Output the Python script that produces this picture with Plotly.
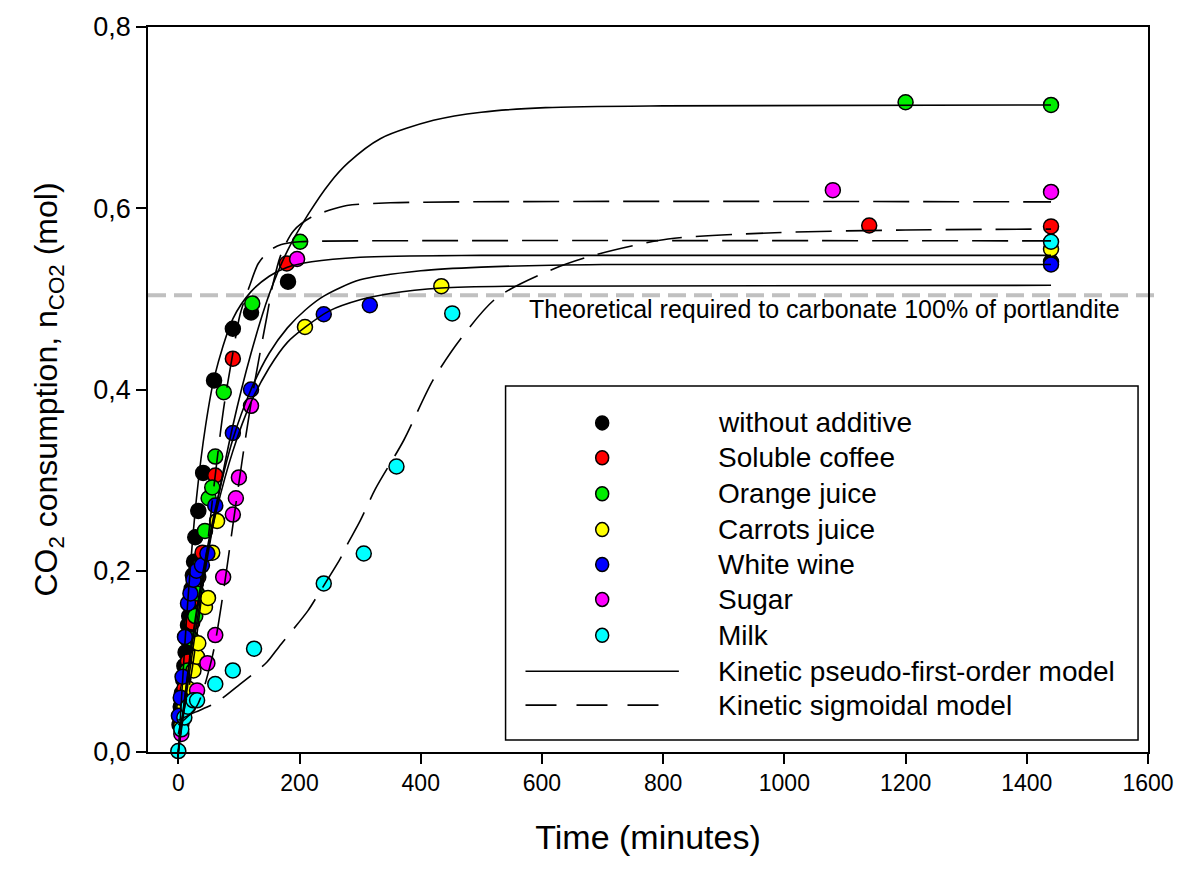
import plotly.graph_objects as go

# ---------------- data ----------------
series_names = ["without additive", "Soluble coffee", "Orange juice", "Carrots juice",
                "White wine", "Sugar", "Milk"]
series_colors = ["#000000", "#ff0000", "#00ee00", "#ffff00", "#0000ff", "#ff00ff", "#00ffff"]

black_t = [2, 4, 6, 8, 10, 12, 14, 16, 18, 20, 22, 24, 26, 28, 33, 41, 59, 90, 120, 181, 1440]
black_v = [0.03, 0.05, 0.065, 0.08, 0.095, 0.11, 0.125, 0.14, 0.15, 0.165, 0.18, 0.195, 0.21,
           0.237, 0.266, 0.308, 0.41, 0.467, 0.485, 0.519, 0.541]
red_t = [4, 10, 16, 23, 28, 33, 40, 61, 90, 179, 1140, 1440]
red_v = [0.035, 0.07, 0.10, 0.143, 0.17, 0.193, 0.22, 0.305, 0.434, 0.539, 0.581, 0.58]
green_t = [8, 15, 22, 28, 31, 35, 44, 50, 56, 61, 75, 122, 201, 1200, 1440]
green_v = [0.05, 0.09, 0.125, 0.15, 0.175, 0.205, 0.244, 0.28, 0.292, 0.326, 0.397, 0.495,
           0.563, 0.717, 0.714]
yellow_t = [5, 10, 16, 25, 31, 33, 44, 49, 56, 64, 209, 434, 1440]
yellow_v = [0.03, 0.05, 0.07, 0.09, 0.105, 0.12, 0.16, 0.17, 0.22, 0.255, 0.469, 0.514, 0.555]
blue_t = [1, 4, 7, 11, 16, 20, 25, 30, 39, 48, 61, 90, 120, 240, 316, 1440]
blue_v = [0.04, 0.06, 0.083, 0.127, 0.164, 0.175, 0.19, 0.2, 0.206, 0.219, 0.272, 0.352, 0.40,
          0.483, 0.493, 0.538]
magenta_t = [5, 31, 48, 61, 74, 90, 95, 100, 120, 196, 1080, 1440]
magenta_v = [0.02, 0.068, 0.098, 0.129, 0.193, 0.262, 0.28, 0.303, 0.382, 0.544, 0.62, 0.618]
cyan_t = [0, 5, 10, 16, 25, 31, 61, 90, 125, 240, 306, 360, 452, 1440]
cyan_v = [0.001, 0.025, 0.038, 0.05, 0.057, 0.057, 0.075, 0.09, 0.114, 0.186, 0.219, 0.315,
          0.484, 0.563]

series_t = [black_t, red_t, green_t, yellow_t, blue_t, magenta_t, cyan_t]
series_v = [black_v, red_v, green_v, yellow_v, blue_v, magenta_v, cyan_v]

# model curves
orange_fit_t = [0, 30, 60, 90, 120, 150, 180, 215, 250, 280, 334, 421, 500, 606, 800, 1440]
orange_fit_v = [0, 0.14, 0.26, 0.36, 0.44, 0.505, 0.553, 0.594, 0.628, 0.650, 0.677, 0.697,
                0.706, 0.711, 0.713, 0.714]
black_fit_t = [0, 15, 30, 45, 60, 90, 120, 150, 180, 220, 300, 500, 1440]
black_fit_v = [0, 0.16, 0.28, 0.36, 0.415, 0.478, 0.508, 0.525, 0.535, 0.541, 0.546, 0.548, 0.548]
wine_fit_t = [0, 20, 40, 60, 90, 120, 150, 180, 210, 240, 300, 400, 500, 700, 1440]
wine_fit_v = [0, 0.11, 0.196, 0.265, 0.345, 0.40, 0.44, 0.468, 0.488, 0.503, 0.521, 0.531,
              0.535, 0.538, 0.538]
carrot_fit_t = [0, 20, 40, 60, 90, 120, 150, 180, 210, 250, 300, 350, 434, 550, 1440]
carrot_fit_v = [0, 0.106, 0.191, 0.258, 0.332, 0.386, 0.424, 0.452, 0.469, 0.487, 0.499, 0.506,
                0.512, 0.514, 0.515]
sugar_fit_t = [0, 30, 56, 74, 90, 105, 120, 132, 146, 156, 170, 190, 219, 250, 278, 350, 1440]
sugar_fit_v = [0.03, 0.05, 0.105, 0.175, 0.25, 0.32, 0.385, 0.43, 0.48, 0.516, 0.55, 0.575,
               0.59, 0.598, 0.603, 0.606, 0.607]
coffee_fit_t = [0, 20, 40, 60, 75, 90, 102, 118, 132, 150, 170, 200, 300, 1440]
coffee_fit_v = [0.02, 0.08, 0.18, 0.30, 0.38, 0.44, 0.483, 0.515, 0.539, 0.553, 0.56, 0.563,
                0.564, 0.564]
milk_fit_t = [0, 28, 61, 102, 146, 166, 214, 231, 267, 278, 300, 325, 372, 420, 466, 525, 619,
              690, 808, 984, 1200, 1440]
milk_fit_v = [0.035, 0.044, 0.054, 0.075, 0.099, 0.116, 0.156, 0.174, 0.213, 0.228, 0.255, 0.29,
              0.344, 0.41, 0.456, 0.501, 0.533, 0.549, 0.566, 0.573, 0.576, 0.577]

solid_fits = [(orange_fit_t, orange_fit_v), (black_fit_t, black_fit_v),
              (wine_fit_t, wine_fit_v), (carrot_fit_t, carrot_fit_v)]
dashed_fits = [(sugar_fit_t, sugar_fit_v), (coffee_fit_t, coffee_fit_v),
               (milk_fit_t, milk_fit_v)]

theoretical_value = 0.504
theoretical_label = "Theoretical required to carbonate 100% of portlandite"

x_ticks = [0, 200, 400, 600, 800, 1000, 1200, 1400, 1600]
y_ticks = [0.0, 0.2, 0.4, 0.6, 0.8]
y_ticklabels = ["0,0", "0,2", "0,4", "0,6", "0,8"]

# ---------------- layout geometry (pixels) ----------------
W, H = 1186, 870
PL, PR, PT, PB = 148, 1152, 25, 752


def px_x(p):
    return (p - PL) / (PR - PL)


def px_y(p):
    return (PB - p) / (PB - PT)


FONT = "Liberation Sans, Arial, sans-serif"

fig = go.Figure()

DASH = "36px,14px"

for t, v, c in zip(series_t, series_v, series_colors):
    fig.add_trace(go.Scatter(x=t, y=v, mode="markers", cliponaxis=False, showlegend=False,
                             marker=dict(size=15, color=c, line=dict(color="black", width=1.5))))

for t, v in solid_fits:
    fig.add_trace(go.Scatter(x=t, y=v, mode="lines", showlegend=False,
                             line=dict(color="black", width=1.6, shape="spline", smoothing=0.8)))
for t, v in dashed_fits:
    fig.add_trace(go.Scatter(x=t, y=v, mode="lines", showlegend=False,
                             line=dict(color="black", width=1.6, dash=DASH, shape="spline",
                                       smoothing=0.8)))

shapes = []
annotations = []

# theoretical line
shapes.append(dict(type="line", xref="paper", yref="y", x0=0, x1=px_x(1163),
                   y0=theoretical_value, y1=theoretical_value, layer="below",
                   line=dict(color="#c0c0c0", width=4, dash="18px,8px")))
annotations.append(dict(xref="x", yref="paper", x=575, y=px_y(308), xanchor="left",
                        yanchor="middle", showarrow=False, text=theoretical_label,
                        font=dict(family=FONT, size=25, color="black")))

# custom legend
shapes.append(dict(type="rect", xref="paper", yref="paper", x0=px_x(507), x1=px_x(1142),
                   y0=px_y(740), y1=px_y(385), line=dict(color="black", width=1.5),
                   fillcolor="white", layer="above"))
row_y = [422, 457, 493, 529, 564, 599, 635, 671, 705]
LEG_FONT = dict(family=FONT, size=28, color="black")
for i, (name, c) in enumerate(zip(series_names, series_colors)):
    shapes.append(dict(type="circle", xref="paper", yref="paper", xsizemode="pixel",
                       ysizemode="pixel", xanchor=px_x(604), yanchor=px_y(row_y[i]),
                       x0=-6.5, x1=6.5, y0=-7, y1=7, fillcolor=c,
                       line=dict(color="black", width=1.5), layer="above"))
    annotations.append(dict(xref="paper", yref="paper", x=px_x(718), y=px_y(row_y[i]),
                            xanchor="left", yanchor="middle", showarrow=False, text=name,
                            font=LEG_FONT))
shapes.append(dict(type="line", xref="paper", yref="paper", x0=px_x(527), x1=px_x(681),
                   y0=px_y(row_y[7]), y1=px_y(row_y[7]), line=dict(color="black", width=1.6),
                   layer="above"))
annotations.append(dict(xref="paper", yref="paper", x=px_x(718), y=px_y(row_y[7]),
                        xanchor="left", yanchor="middle", showarrow=False,
                        text="Kinetic pseudo-first-order model", font=LEG_FONT))
shapes.append(dict(type="line", xref="paper", yref="paper", x0=px_x(527), x1=px_x(668),
                   y0=px_y(row_y[8]), y1=px_y(row_y[8]),
                   line=dict(color="black", width=1.6, dash="31px,20px"), layer="above"))
annotations.append(dict(xref="paper", yref="paper", x=px_x(718), y=px_y(row_y[8]),
                        xanchor="left", yanchor="middle", showarrow=False,
                        text="Kinetic sigmoidal model", font=LEG_FONT))

fig.update_layout(
    width=W, height=H,
    margin=dict(l=PL, r=W - PR, t=PT, b=H - PB, pad=0),
    paper_bgcolor="white", plot_bgcolor="white",
    shapes=shapes, annotations=annotations,
    xaxis=dict(range=[-50, 1600], tickvals=x_ticks, ticks="outside", ticklen=10, tickwidth=1.5,
               tickcolor="black", showline=True, linecolor="black", linewidth=1.5,
               mirror=True, showgrid=False, zeroline=False,
               tickfont=dict(family=FONT, size=23, color="black"),
               title=dict(text="Time (minutes)", standoff=30,
                          font=dict(family=FONT, size=34, color="black"))),
    yaxis=dict(range=[0, 0.8], tickvals=y_ticks, ticktext=y_ticklabels, ticks="outside",
               ticklen=10, tickwidth=1.5, tickcolor="black", showline=True, linecolor="black",
               linewidth=1.5, mirror=True, showgrid=False, zeroline=False,
               tickfont=dict(family=FONT, size=27, color="black"),
               title=dict(text="CO<sub>2</sub> consumption, n<sub>CO2</sub> (mol)", standoff=26,
                          font=dict(family=FONT, size=32, color="black"))),
)

fig.write_html("out.html")
